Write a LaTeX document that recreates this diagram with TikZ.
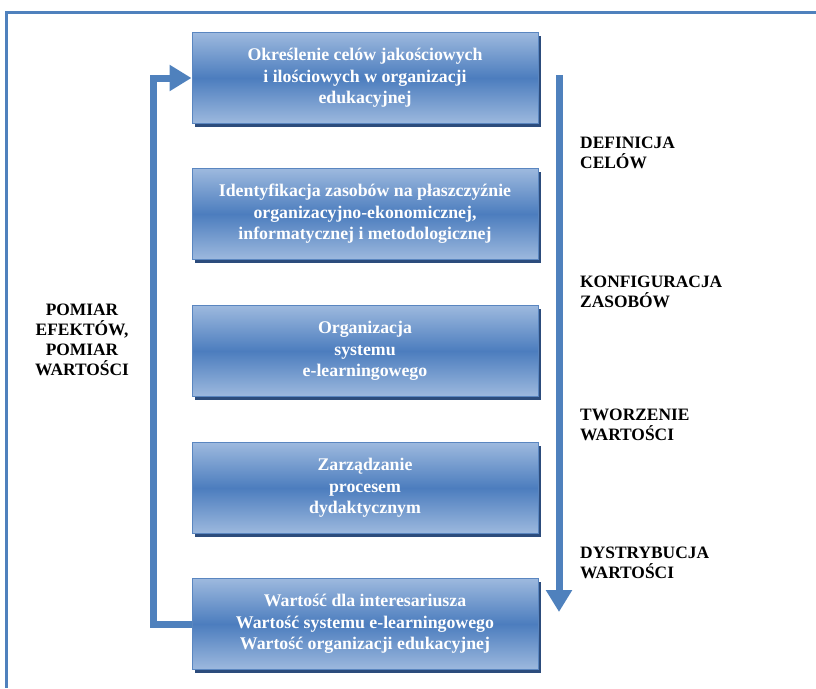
\documentclass[tikz,border=0pt]{standalone}
\usepackage{fontspec}
\setmainfont{Liberation Serif}
\usetikzlibrary{arrows.meta,shadows}

\definecolor{boxlight}{HTML}{9DB9DE}
\definecolor{boxmid}{HTML}{4C7DBE}
\definecolor{boxedge}{HTML}{5A86C0}
\definecolor{boxshadow}{HTML}{2C4C7C}
\definecolor{flowblue}{HTML}{4F81BD}

\tikzset{
    stagebox/.style={
        shade, top color=boxlight, bottom color=boxlight, middle color=boxmid,
        draw=boxedge, line width=1pt,
        drop shadow={shadow xshift=2.5pt, shadow yshift=-3pt, fill=boxshadow, opacity=1},
        minimum width=346pt, minimum height=91pt, inner sep=0pt,
        text=white, align=center, font=\bfseries\fontsize{17.8}{21.5}\selectfont
    },
    phase/.style={
        anchor=west, align=left, inner sep=0pt,
        font=\bfseries\fontsize{17.4}{20}\selectfont
    },
    flow/.style={
        draw=flowblue, line width=7pt,
        -{Triangle[length=22pt,width=25pt]}
    }
}

\begin{document}
\begin{tikzpicture}[x=1pt,y=-1pt]
    \useasboundingbox (0,0) rectangle (816,688);
    %ramka
    \draw [flowblue, line width=3pt] (816,12) -- (6,12) -- (6,688);
    %bloki
    \node [stagebox] (cele) at (365,78) {Określenie celów jakościowych\\i ilościowych w organizacji\\edukacyjnej};
    \node [stagebox] (zasoby) at (365,214) {Identyfikacja zasobów na płaszczyźnie\\organizacyjno-ekonomicznej,\\informatycznej i metodologicznej};
    \node [stagebox] (system) at (365,351) {Organizacja\\systemu\\e-learningowego};
    \node [stagebox] (proces) at (365,488) {Zarządzanie\\procesem\\dydaktycznym};
    \node [stagebox] (wartosc) at (365,624) {Wartość dla interesariusza\\Wartość systemu e-learningowego\\Wartość organizacji edukacyjnej};
    %strzalki
    \coordinate (flowtop) at (559,75);
    \coordinate (flowend) at (559,612);
    \draw [flow] (flowtop) -- (flowend);
    \draw [flow] (wartosc.west) -- ++(-38,0) |- (cele.west);
    %etapy
    \node [phase] (definicja) at (580,153) {DEFINICJA\\CELÓW};
    \node [phase] (konfiguracja) at (580,292) {KONFIGURACJA\\ZASOBÓW};
    \node [phase] (tworzenie) at (580,425) {TWORZENIE\\WARTOŚCI};
    \node [phase] (dystrybucja) at (580,563) {DYSTRYBUCJA\\WARTOŚCI};
    \node [phase, anchor=center, align=center] (pomiar) at (82,340) {POMIAR\\EFEKTÓW,\\POMIAR\\WARTOŚCI};
\end{tikzpicture}
\end{document}
